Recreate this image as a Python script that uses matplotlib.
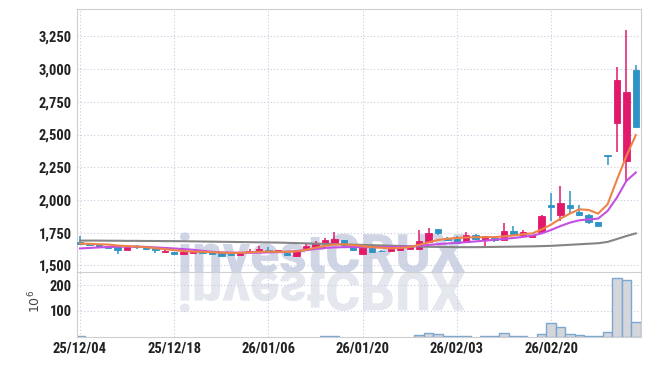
import numpy as np
import matplotlib.pyplot as plt
from matplotlib.textpath import TextPath
from matplotlib.patches import PathPatch
from matplotlib.font_manager import FontProperties, fontManager
from matplotlib.transforms import Affine2D
from matplotlib.ticker import FuncFormatter

names = {f.name for f in fontManager.ttflist}
narrow = [n for n in ['Roboto Condensed', 'Liberation Sans Narrow', 'Open Sans Condensed'] if n in names]
plt.rcParams['font.family'] = narrow + ['Roboto', 'DejaVu Sans']

# x axis: one slot per trading day, label every 10 days
tick_pos = [0, 10, 20, 30, 40, 50]
tick_labels = ['25/12/04', '25/12/18', '26/01/06', '26/01/20', '26/02/03', '26/02/20']

# daily candles
opens = [1678, 1666, 1661, 1645, 1640, 1617, 1645, 1645, 1632, 1605,
         1600, 1588, 1597, 1610, 1602, 1594, 1590, 1582, 1604, 1610,
         1620, 1613, 1597, 1569, 1636, 1640, 1674, 1666, 1691, 1648,
         1587, 1636, 1614, 1610, 1617, 1628, 1625, 1678, 1778, 1702,
         1704, 1681, 1735, 1694, 1712, 1694, 1760, 1735, 1717, 1755,
         1965, 1885, 1960, 1908, 1883, 1832, 2340, 2585, 2299, 2996]
highs = [1724, 1668, 1663, 1647, 1642, 1642, 1655, 1648, 1634, 1620,
         1602, 1602, 1607, 1612, 1604, 1596, 1592, 1599, 1625, 1646,
         1640, 1622, 1599, 1612, 1662, 1686, 1712, 1758, 1693, 1650,
         1650, 1638, 1622, 1630, 1640, 1645, 1768, 1789, 1780, 1720,
         1724, 1758, 1737, 1726, 1724, 1827, 1801, 1770, 1735, 1888,
         2052, 2107, 2069, 1960, 1890, 1834, 2340, 3019, 3295, 3027]
lows = [1658, 1645, 1641, 1634, 1590, 1615, 1628, 1626, 1598, 1603,
        1588, 1586, 1595, 1592, 1588, 1572, 1577, 1580, 1600, 1608,
        1600, 1611, 1575, 1567, 1623, 1632, 1658, 1664, 1636, 1613,
        1585, 1595, 1605, 1608, 1615, 1626, 1623, 1676, 1735, 1685,
        1672, 1679, 1697, 1648, 1681, 1692, 1724, 1733, 1710, 1753,
        1839, 1839, 1891, 1878, 1815, 1799, 2265, 2363, 2146, 2555]
closes = [1661, 1655, 1643, 1636, 1617, 1640, 1640, 1628, 1615, 1613,
          1590, 1600, 1605, 1594, 1590, 1574, 1579, 1597, 1610, 1628,
          1613, 1620, 1577, 1610, 1645, 1666, 1691, 1699, 1655, 1615,
          1648, 1602, 1610, 1628, 1636, 1640, 1686, 1745, 1750, 1696,
          1674, 1735, 1699, 1724, 1694, 1760, 1737, 1755, 1732, 1878,
          1950, 1975, 1939, 1885, 1835, 1801, 2338, 2917, 2828, 2559]

# volume, millions of shares
volume = [1.5, 0, 0, 0, 0, 0, 0, 0, 0, 0,
          0, 0, 0, 0, 0, 0, 0, 0, 0, 0,
          0, 0, 0, 0, 0, 0, 1.5, 1.5, 0, 0,
          0, 0, 0, 0, 0, 0, 7, 15, 10, 3,
          3, 3, 0, 3, 3, 15, 3, 3, 0, 12,
          54, 38, 12, 8, 3, 3, 17, 227, 220, 58]

# moving averages as drawn on the chart
ma5 = [1668, 1665, 1662, 1660, 1652, 1648, 1645, 1640, 1632, 1625,
       1617, 1610, 1606, 1604, 1602, 1598, 1596, 1597, 1600, 1604,
       1606, 1605, 1604, 1608, 1620, 1635, 1650, 1660, 1662, 1656,
       1648, 1640, 1635, 1632, 1634, 1640, 1658, 1676, 1695, 1704,
       1710, 1714, 1716, 1716, 1717, 1722, 1730, 1738, 1745, 1775,
       1812, 1858, 1896, 1929, 1924, 1896, 1967, 2155, 2335, 2496]
ma10 = [1630, 1634, 1638, 1641, 1643, 1644, 1644, 1642, 1638, 1634,
        1630, 1625, 1620, 1612, 1605, 1600, 1598, 1597, 1597, 1598,
        1600, 1602, 1605, 1610, 1617, 1626, 1634, 1638, 1640, 1641,
        1640, 1640, 1640, 1641, 1642, 1645, 1650, 1657, 1663, 1668,
        1673, 1678, 1684, 1690, 1696, 1703, 1710, 1718, 1728, 1745,
        1771, 1801, 1827, 1845, 1852, 1858, 1916, 2019, 2146, 2210]
ma60 = [1690, 1690, 1690, 1689, 1689, 1688, 1688, 1687, 1687, 1686,
        1686, 1685, 1684, 1683, 1682, 1681, 1680, 1679, 1678, 1677,
        1676, 1675, 1673, 1671, 1669, 1667, 1665, 1663, 1661, 1659,
        1657, 1655, 1653, 1651, 1649, 1647, 1645, 1643, 1642, 1641,
        1640, 1640, 1640, 1641, 1642, 1643, 1644, 1645, 1646, 1648,
        1650, 1654, 1658, 1662, 1666, 1670, 1680, 1702, 1725, 1745]

UP = '#e2196b'
DOWN = '#2e94c6'
GRID = '#c6ccdd'
SPINE = '#cfcfcf'
TXT = '#222222'

W, H = 650, 366
fig = plt.figure(figsize=(W / 100, H / 100), dpi=100)
fig.patch.set_facecolor('white')

left, right = 76.7, 640.7
top, mid, bot = 9.3, 272.3, 336.7
ax = fig.add_axes([left / W, 1 - mid / H, (right - left) / W, (mid - top) / H])
axv = fig.add_axes([left / W, 1 - bot / H, (right - left) / W, (bot - mid) / H], sharex=ax)

# watermark + reflection, behind everything
fp = FontProperties(family='Roboto', weight='black')
tp = TextPath((0, 0), 'investCRUX', size=1, prop=fp)
bb = tp.get_extents()
k = 285 / bb.width
px2fig = Affine2D().scale(1 / W, 1 / H) + fig.transFigure
for sy, col in [(1, '#d0d5e6'), (-1, '#e5e7ef')]:
    tr = Affine2D().translate(-bb.x0, 0).scale(k, sy * k).translate(180, H - mid) + px2fig
    fig.patches.append(PathPatch(tp, transform=tr, facecolor=col, edgecolor='none', zorder=-1))

x = np.arange(len(closes))
o = np.array(opens)
c = np.array(closes)
cols = [UP if cc >= oo else DOWN for oo, cc in zip(o, c)]

for a in (ax, axv):
    a.set_facecolor('none')
    a.grid(True, ls=(0, (1, 2)), color=GRID, lw=0.8)
    a.set_axisbelow(True)
    for s in a.spines.values():
        s.set_color(SPINE)
    a.tick_params(length=0, labelsize=10.5, colors=TXT)

# candles
ax.vlines(x, lows, highs, colors=cols, lw=1.1, zorder=2)
body = np.maximum(np.abs(c - o), 3)
ax.bar(x, body, bottom=np.minimum(o, c), width=0.68, color=cols,
       edgecolor=cols, lw=0.6, zorder=3)

ax.plot(x, ma60, color='#858585', lw=1.5, zorder=4)
ax.plot(x, ma10, color='#c54fe2', lw=1.5, zorder=4)
ax.plot(x, ma5, color='#ee8348', lw=1.5, zorder=4)

ax.set_ylim(1448, 3456)
ax.set_yticks(range(1500, 3251, 250))
ax.yaxis.set_major_formatter(FuncFormatter(lambda v, p: f'{v:,.0f}'))
ax.tick_params(labelbottom=False)

# volume
vol = np.array(volume, dtype=float)
m = vol > 0
axv.bar(x[m], vol[m], width=1.0, color='#d5d5dc', edgecolor='#7aa8cf', lw=1.0, zorder=2)
axv.set_ylim(0, 250)
axv.set_yticks([100, 200])
axv.spines['top'].set_visible(False)
axv.set_ylabel('$10^6$', fontsize=9, color='#444444')
axv.yaxis.set_label_coords(-(left - 43) / (right - left), 0.55)

axv.set_xlim(-0.35, 59.52)
axv.set_xticks(tick_pos)
axv.set_xticklabels(tick_labels)
for lab in ax.get_yticklabels() + axv.get_yticklabels() + axv.get_xticklabels():
    lab.set_fontweight('bold')

fig.savefig('out.png', dpi=100)
